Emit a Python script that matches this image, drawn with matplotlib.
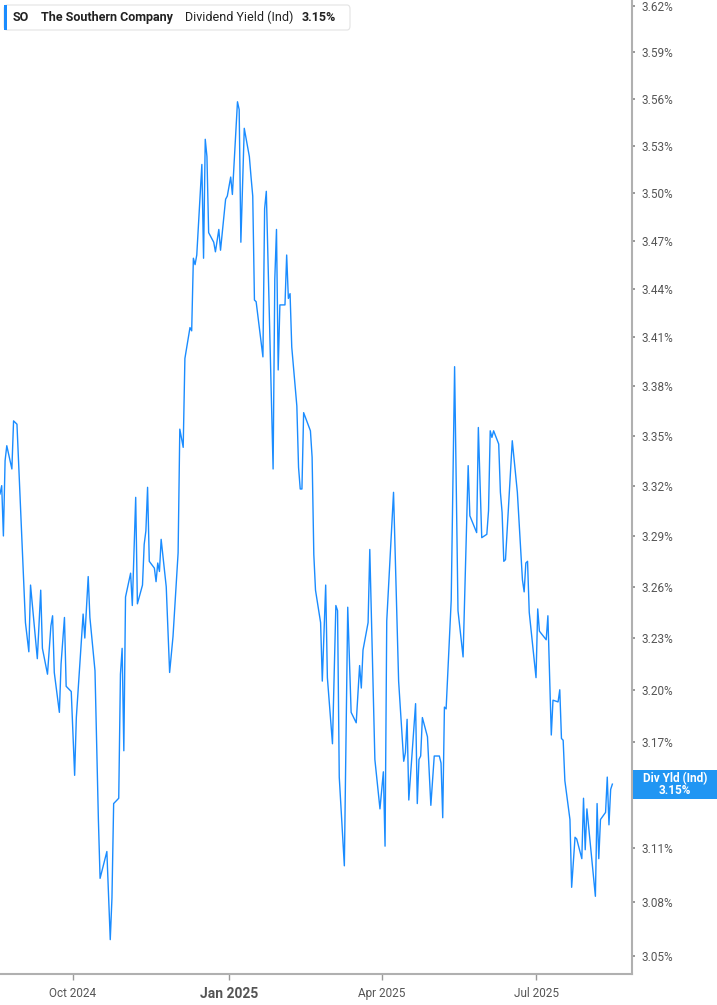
import pandas as pd
import matplotlib
matplotlib.use("Agg")
import matplotlib.pyplot as plt
from matplotlib.ticker import FixedLocator, NullLocator
from matplotlib.patches import FancyBboxPatch, Rectangle

# -------------------------
# Data (SO dividend yield, %)
# -------------------------
dates = [
    "2024-08-19", "2024-08-20", "2024-08-21", "2024-08-22", "2024-08-23", "2024-08-26", "2024-08-27", "2024-08-29",
    "2024-09-03", "2024-09-05", "2024-09-06", "2024-09-10", "2024-09-12", "2024-09-13", "2024-09-16", "2024-09-18",
    "2024-09-19", "2024-09-20", "2024-09-23", "2024-09-24", "2024-09-26", "2024-09-27", "2024-09-30",
    "2024-10-02", "2024-10-03", "2024-10-07", "2024-10-08", "2024-10-10", "2024-10-11", "2024-10-14", "2024-10-16",
    "2024-10-17", "2024-10-21", "2024-10-23", "2024-10-24", "2024-10-25", "2024-10-28", "2024-10-29", "2024-10-30",
    "2024-10-31",
    "2024-11-01", "2024-11-04", "2024-11-05", "2024-11-07", "2024-11-08", "2024-11-11", "2024-11-12", "2024-11-13",
    "2024-11-14", "2024-11-15", "2024-11-18", "2024-11-19", "2024-11-20", "2024-11-21", "2024-11-22", "2024-11-25",
    "2024-11-27", "2024-11-29",
    "2024-12-02", "2024-12-03", "2024-12-05", "2024-12-06", "2024-12-09", "2024-12-10", "2024-12-11", "2024-12-12",
    "2024-12-13", "2024-12-16", "2024-12-17", "2024-12-18", "2024-12-19", "2024-12-20", "2024-12-23", "2024-12-24",
    "2024-12-26", "2024-12-27", "2024-12-30", "2024-12-31",
    "2025-01-02", "2025-01-03", "2025-01-06", "2025-01-07", "2025-01-08", "2025-01-10", "2025-01-13", "2025-01-14",
    "2025-01-15", "2025-01-16", "2025-01-17", "2025-01-21", "2025-01-22", "2025-01-23", "2025-01-27", "2025-01-28",
    "2025-01-29", "2025-01-30", "2025-01-31",
    "2025-02-03", "2025-02-04", "2025-02-05", "2025-02-06", "2025-02-07", "2025-02-10", "2025-02-11", "2025-02-12",
    "2025-02-13", "2025-02-14", "2025-02-18", "2025-02-19", "2025-02-20", "2025-02-21", "2025-02-24", "2025-02-25",
    "2025-02-27", "2025-02-28",
    "2025-03-03", "2025-03-05", "2025-03-06", "2025-03-07", "2025-03-10", "2025-03-12", "2025-03-14", "2025-03-17",
    "2025-03-19", "2025-03-20", "2025-03-21", "2025-03-24", "2025-03-25", "2025-03-28", "2025-03-31",
    "2025-04-02", "2025-04-03", "2025-04-04", "2025-04-08", "2025-04-11", "2025-04-14", "2025-04-15", "2025-04-16",
    "2025-04-17", "2025-04-21", "2025-04-22", "2025-04-23", "2025-04-24", "2025-04-25", "2025-04-28", "2025-04-30",
    "2025-05-02", "2025-05-05", "2025-05-06", "2025-05-07", "2025-05-08", "2025-05-09", "2025-05-12", "2025-05-14",
    "2025-05-16", "2025-05-19", "2025-05-22", "2025-05-23", "2025-05-27", "2025-05-28", "2025-05-30",
    "2025-06-02", "2025-06-03", "2025-06-04", "2025-06-05", "2025-06-06", "2025-06-09", "2025-06-10", "2025-06-11",
    "2025-06-12", "2025-06-13", "2025-06-17", "2025-06-20", "2025-06-23", "2025-06-24", "2025-06-25", "2025-06-26",
    "2025-06-27",
    "2025-07-01", "2025-07-02", "2025-07-03", "2025-07-07", "2025-07-08", "2025-07-10", "2025-07-11", "2025-07-14",
    "2025-07-15", "2025-07-16", "2025-07-17", "2025-07-18", "2025-07-21", "2025-07-22", "2025-07-24", "2025-07-25",
    "2025-07-28", "2025-07-29", "2025-07-30", "2025-07-31",
    "2025-08-05", "2025-08-06", "2025-08-07", "2025-08-08", "2025-08-11", "2025-08-12", "2025-08-13", "2025-08-14",
    "2025-08-15",
]

div_yield = [
    3.315, 3.320, 3.290, 3.335, 3.344, 3.330, 3.359, 3.357,
    3.239, 3.222, 3.261, 3.218, 3.258, 3.224, 3.209, 3.237,
    3.243, 3.210, 3.187, 3.215, 3.242, 3.202, 3.199,
    3.151, 3.184, 3.244, 3.230, 3.266, 3.242, 3.211, 3.126,
    3.093, 3.108, 3.059, 3.082, 3.135, 3.138, 3.209, 3.224,
    3.165,
    3.254, 3.268, 3.249, 3.313, 3.250, 3.261, 3.285, 3.293,
    3.319, 3.275, 3.271, 3.263, 3.274, 3.269, 3.288, 3.260,
    3.210, 3.231,
    3.280, 3.354, 3.343, 3.397, 3.416, 3.414, 3.459, 3.455,
    3.461, 3.518, 3.459, 3.534, 3.523, 3.475, 3.469, 3.463,
    3.477, 3.464, 3.496, 3.498,
    3.510, 3.499, 3.558, 3.553, 3.469, 3.541, 3.523, 3.510,
    3.498, 3.433, 3.432, 3.398, 3.490, 3.501, 3.330, 3.446,
    3.477, 3.390, 3.430,
    3.430, 3.461, 3.434, 3.437, 3.404, 3.368, 3.331, 3.318,
    3.318, 3.364, 3.353, 3.337, 3.279, 3.258, 3.239, 3.205,
    3.261, 3.207,
    3.169, 3.249, 3.246, 3.150, 3.100, 3.248, 3.187, 3.181,
    3.214, 3.201, 3.223, 3.239, 3.282, 3.160, 3.132,
    3.153, 3.111, 3.240, 3.316, 3.205, 3.159, 3.164, 3.183,
    3.137, 3.192, 3.135, 3.160, 3.162, 3.184, 3.173, 3.134,
    3.162, 3.162, 3.158, 3.127, 3.190, 3.189, 3.252, 3.392,
    3.246, 3.219, 3.332, 3.302, 3.292, 3.355, 3.289,
    3.291, 3.305, 3.353, 3.349, 3.353, 3.345, 3.316, 3.304,
    3.275, 3.276, 3.347, 3.316, 3.264, 3.257, 3.274, 3.275,
    3.245,
    3.207, 3.247, 3.234, 3.229, 3.243, 3.174, 3.194, 3.193,
    3.200, 3.172, 3.171, 3.148, 3.126, 3.088, 3.116, 3.115,
    3.104, 3.138, 3.109, 3.132,
    3.083, 3.135, 3.104, 3.126, 3.130, 3.150, 3.123, 3.143,
    3.146,
]

y_ticks = [3.05, 3.08, 3.11, 3.14, 3.17, 3.20, 3.23, 3.26, 3.29, 3.32,
           3.35, 3.38, 3.41, 3.44, 3.47, 3.50, 3.53, 3.56, 3.59, 3.62]
x_tick_dates = ["2024-10-01", "2025-01-01", "2025-04-01", "2025-07-01"]
x_tick_labels = ["Oct 2024", "Jan 2025", "Apr 2025", "Jul 2025"]

ticker_symbol = "SO"
company = "The Southern Company"
metric = "Dividend Yield (Ind)"

LINE = "#1a8cff"
BOX = "#2196f3"
GREY = "#555555"
SPINE = "#b0b0b0"

plt.rcParams["font.family"] = ["Roboto", "DejaVu Sans"]

W, H = 717, 1005
fig = plt.figure(figsize=(W / 100, H / 100), dpi=100)
ax = fig.add_axes([0, 31 / H, 632 / W, 974 / H])

x = pd.to_datetime(dates)
ax.plot(x, div_yield, color=LINE, lw=1.0, zorder=3)

ax.set_yscale("log")
ax.set_ylim(3.0401, 3.6239)
ax.set_xlim(pd.Timestamp("2024-08-19"), pd.Timestamp("2025-08-26 14:00"))

last = div_yield[-1]

ax.yaxis.tick_right()
ax.yaxis.set_major_locator(FixedLocator(y_ticks))
ax.yaxis.set_minor_locator(NullLocator())
# the 3.14% label sits under the last-value tag, so it is left blank
ax.set_yticklabels(["" if abs(t - last) < 0.015 else f"{t:.2f}%" for t in y_ticks])
ax.tick_params(axis="y", which="major", length=2.5, width=1.2, color="#888888",
               pad=4.5, labelsize=8.5, labelcolor=GREY)

ax.set_xticks(pd.to_datetime(x_tick_dates))
ax.set_xticklabels(x_tick_labels)
ax.tick_params(axis="x", length=4, width=1.0, color="#999999",
               pad=5, labelsize=8.5, labelcolor=GREY)
for lbl in ax.get_xticklabels():
    if lbl.get_text().startswith("Jan"):
        lbl.set_fontweight("bold")
        lbl.set_fontsize(10)

for side in ["top", "left"]:
    ax.spines[side].set_visible(False)
for side in ["bottom", "right"]:
    ax.spines[side].set_color(SPINE)
    ax.spines[side].set_linewidth(1.5)

# -------------------------
# Last value tag on the right axis
# -------------------------
fig.canvas.draw()
y_disp = ax.transData.transform((0, last))[1]
y_mid = y_disp / H
tag = Rectangle((633 / W, y_mid - 14.5 / H), (W - 633) / W, 29 / H,
                transform=fig.transFigure, facecolor=BOX, edgecolor="none", zorder=5)
fig.patches.append(tag)
fig.text(675 / W, y_mid + 6 / H, "Div Yld (Ind)", color="white", fontsize=8.5,
         fontweight="bold", ha="center", va="center", zorder=6)
fig.text(675 / W, y_mid - 6 / H, f"{last:.2f}%", color="white", fontsize=8.5,
         fontweight="bold", ha="center", va="center", zorder=6)

# -------------------------
# Header box
# -------------------------
def fx(px):
    return px / W


def fy(py):
    return 1 - py / H


header = FancyBboxPatch((fx(4), fy(30)), fx(350) - fx(4), fy(5) - fy(30),
                        boxstyle="round,pad=0,rounding_size=0.004",
                        transform=fig.transFigure, facecolor="white",
                        edgecolor="#e3e3e3", lw=0.8, zorder=5)
fig.patches.append(header)
bar = Rectangle((fx(4), fy(30)), fx(3), fy(5) - fy(30), transform=fig.transFigure,
                facecolor=LINE, edgecolor="none", zorder=6)
fig.patches.append(bar)

ty = fy(17.5)
fig.text(fx(13), ty, ticker_symbol, fontsize=9, fontweight="bold", color="#222222", va="center", zorder=7)
fig.text(fx(41), ty, company, fontsize=9, fontweight="bold", color="#222222", va="center", zorder=7)
fig.text(fx(185), ty, metric, fontsize=9, color="#222222", va="center", zorder=7)
fig.text(fx(302), ty, f"{last:.2f}%", fontsize=9, fontweight="bold", color="#222222", va="center", zorder=7)

fig.savefig("out.png", dpi=100, facecolor="white")
